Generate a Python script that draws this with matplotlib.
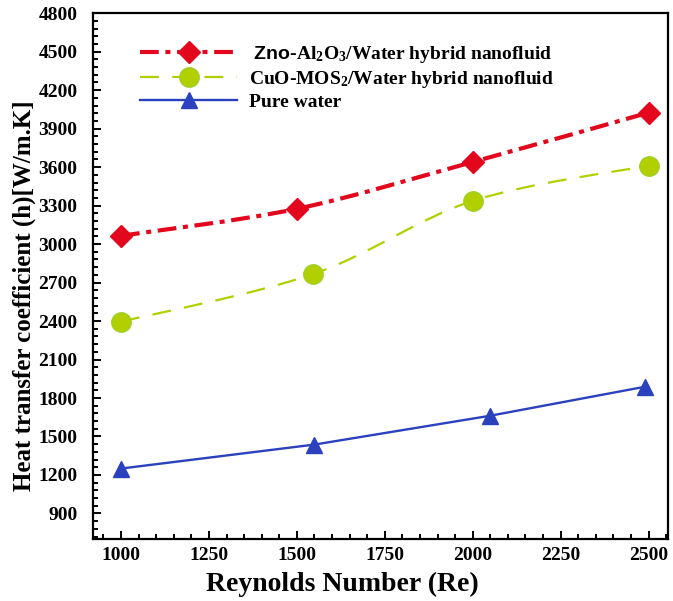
import matplotlib
matplotlib.use("Agg")
import matplotlib.pyplot as plt
from matplotlib.path import Path
from matplotlib.patches import PathPatch
from matplotlib.lines import Line2D
from matplotlib.ticker import MultipleLocator

plt.rcParams['font.family'] = 'Liberation Serif'
plt.rcParams['font.weight'] = 'bold'
plt.rcParams['mathtext.fontset'] = 'custom'
plt.rcParams['mathtext.rm'] = 'Liberation Serif:bold'
plt.rcParams['mathtext.sf'] = 'Liberation Sans:bold'
plt.rcParams['mathtext.default'] = 'rm'

# data
re_zno = [1000, 1500, 2000, 2500]
h_zno = [3065, 3275, 3640, 4025]
re_cuo = [1000, 1545, 2000, 2500]
h_cuo = [2395, 2765, 3337, 3612]
re_water = [1000, 1550, 2050, 2490]
h_water = [1250, 1437, 1662, 1888]

labels = [r" $\mathsf{Zno}$-Al$_2$O$_3$/Water hybrid nanofluid",
          r"CuO-MOS$_2$/Water hybrid nanofluid",
          "Pure water"]

red = '#e2071c'
green = '#b2cf00'
blue = '#2b41bd'


def smooth_path(xs, ys):
    # catmull-rom through the points, drawn as bezier segments
    n = len(xs)
    verts = [(xs[0], ys[0])]
    codes = [Path.MOVETO]
    for i in range(n - 1):
        x0, y0 = (xs[i - 1], ys[i - 1]) if i > 0 else (xs[i], ys[i])
        x1, y1 = xs[i], ys[i]
        x2, y2 = xs[i + 1], ys[i + 1]
        x3, y3 = (xs[i + 2], ys[i + 2]) if i + 2 < n else (x2, y2)
        c1 = (x1 + (x2 - x0) / 6, y1 + (y2 - y0) / 6)
        c2 = (x2 - (x3 - x1) / 6, y2 - (y3 - y1) / 6)
        verts += [c1, c2, (x2, y2)]
        codes += [Path.CURVE4] * 3
    return Path(verts, codes)


fig = plt.figure(figsize=(6.73, 6.01), dpi=100)
ax = fig.add_axes([0.138, 0.103, 0.855, 0.875])

red_ls = (0, (4.5, 1.6, 1.2, 1.6))
green_ls = (0, (8.5, 6))

ax.add_patch(PathPatch(smooth_path(re_zno, h_zno), fill=False, edgecolor=red,
                       lw=3, linestyle=red_ls, zorder=2))
ax.add_patch(PathPatch(smooth_path(re_cuo, h_cuo), fill=False, edgecolor=green,
                       lw=1.6, linestyle=green_ls, zorder=2))
ax.plot(re_water, h_water, color=blue, lw=1.7, zorder=2)

ax.plot(re_zno, h_zno, 'D', color=red, ms=11, zorder=3)
ax.plot(re_cuo, h_cuo, 'o', color=green, mec='#9fd02a', ms=14, zorder=3)
ax.plot(re_water, h_water, '^', color=blue, ms=12, zorder=3)

handles = [
    Line2D([], [], color=red, lw=3, ls=red_ls, marker='D', ms=11),
    Line2D([], [], color=green, lw=1.6, ls=green_ls, marker='o', ms=14, mec='#9fd02a'),
    Line2D([], [], color=blue, lw=1.7, marker='^', ms=12),
]
ax.legend(handles, labels, loc='upper left', bbox_to_anchor=(0.082, 0.942),
          frameon=False, fontsize=14, handlelength=5.0, handletextpad=0.6,
          labelspacing=0.2, borderpad=0, borderaxespad=0)

ax.set_xlim(920, 2556)
ax.set_ylim(700, 4800)
ax.xaxis.set_major_locator(MultipleLocator(250))
ax.xaxis.set_minor_locator(MultipleLocator(50))
ax.yaxis.set_major_locator(MultipleLocator(300))
ax.yaxis.set_minor_locator(MultipleLocator(60))
ax.tick_params(which='both', direction='in', top=False, right=False, width=1.4)
ax.tick_params(which='major', length=6, labelsize=14)
ax.tick_params(axis='x', which='major', pad=6)
ax.tick_params(axis='y', which='major', pad=11)
ax.tick_params(which='minor', length=3.5)
for s in ax.spines.values():
    s.set_linewidth(1.6)

ax.set_xlabel('Reynolds Number (Re)', fontsize=20, fontweight='bold')
ax.set_ylabel('Heat transfer coefficient (h)[W/m.K]', fontsize=18, fontweight='bold')
ax.xaxis.set_label_coords(0.433, -0.062)
ax.yaxis.set_label_coords(-0.098, 0.462)

fig.savefig('out.png', dpi=100)
